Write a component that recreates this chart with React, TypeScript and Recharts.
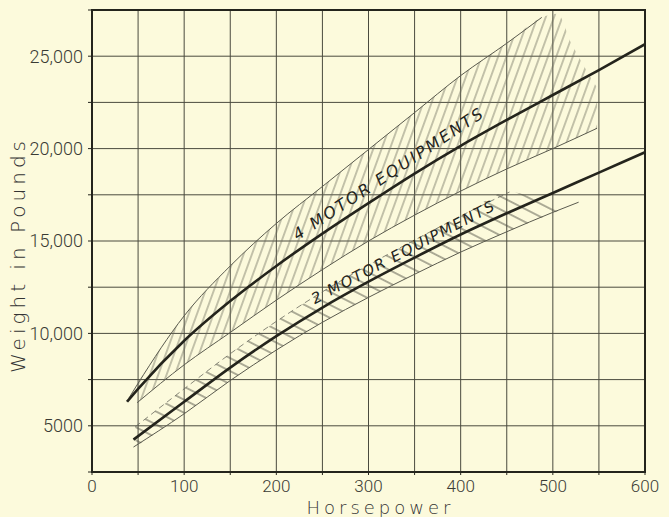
import {
  ComposedChart, Line, Area, XAxis, YAxis, CartesianGrid,
  ReferenceArea, ReferenceDot,
} from 'recharts';

// horsepower grid and weight grid (every 50 hp / 2500 lb)
const xTicks = [0, 50, 100, 150, 200, 250, 300, 350, 400, 450, 500, 550, 600];
const yTicks = [2500, 5000, 7500, 10000, 12500, 15000, 17500, 20000, 22500, 25000, 27500];
const yTickLabels: Record<number, string> = {
  5000: '5000', 10000: '10,000', 15000: '15,000', 20000: '20,000', 25000: '25,000',
};

// 4 motor equipments
const main4Hp = [38, 50, 100, 150, 200, 250, 300, 350, 400, 450, 500, 550, 600];
const main4W  = [6300, 7000, 9600, 11750, 13650, 15400, 17050, 18650, 20150, 21550, 22900, 24250, 25650];
const upper4Hp = [40, 50, 100, 150, 200, 250, 300, 350, 400, 450, 488];
const upper4W  = [6500, 7300, 10950, 13650, 15950, 17950, 19950, 21950, 23950, 25700, 27100];
const lower4Hp = [49, 100, 150, 200, 250, 300, 350, 400, 450, 500, 548];
const lower4W  = [6250, 8300, 10050, 11800, 13450, 15000, 16400, 17700, 18900, 20000, 21100];
const band4Hp   = [49, 100, 150, 200, 250, 300, 350, 400, 450, 488, 505, 520, 530, 548];
const band4High = [7250, 10950, 13650, 15950, 17950, 19950, 21950, 23950, 25700, 27100, 27300, 25700, 24800, 23300];
const band4Low  = [6250, 8300, 10050, 11800, 13450, 15000, 16400, 17700, 18900, 19750, 20100, 20450, 20650, 21100];

// 2 motor equipments
const main2Hp = [45, 100, 150, 200, 250, 300, 350, 400, 450, 500, 550, 600];
const main2W  = [4250, 6300, 8150, 9850, 11400, 12800, 14100, 15350, 16500, 17600, 18700, 19800];
const upper2Hp = [47, 100, 150, 200, 250, 300, 350, 400, 453];
const upper2W  = [4950, 7000, 8900, 10650, 12250, 13700, 15050, 16350, 17650];
const lower2Hp = [45, 100, 150, 200, 250, 300, 350, 400, 450, 500, 528];
const lower2W  = [3850, 5650, 7450, 9100, 10600, 11950, 13200, 14400, 15500, 16550, 17100];
const band2Hp   = [47, 100, 150, 200, 250, 300, 350, 400, 453, 485, 515];
const band2High = [4950, 7000, 8900, 10650, 12250, 13700, 15050, 16350, 17650, 17250, 16800];
const band2Low  = [3850, 5650, 7450, 9100, 10600, 11950, 13200, 14400, 15550, 16200, 16800];

// curve labels: text, hp, weight, angle
const curveLabels = [
  { text: '4 MOTOR EQUIPMENTS', hp: 322, w: 18650, angle: 33.6, size: 16, spacing: 2.3 },
  { text: '2 MOTOR EQUIPMENTS', hp: 338, w: 14400, angle: 27.6, size: 15, spacing: 1.8 },
];

const pts = (hp: number[], w: number[]) => hp.map((h, i) => ({ hp: h, w: w[i] }));
const band = (hp: number[], lo: number[], hi: number[]) => hp.map((h, i) => ({ hp: h, range: [lo[i], hi[i]] }));

const BG = '#fcfadc';
const INK = '#24241c';
const FONT = '"DejaVu Sans", sans-serif';
const TICK_FONT = '"Liberation Sans Narrow", Roboto, sans-serif';

function YTitle({ viewBox }: any) {
  const cx = 25;
  const cy = viewBox.y + viewBox.height / 2 + 14;
  return (
    <text x={cx} y={cy} transform={`rotate(-90 ${cx} ${cy})`} textAnchor="middle"
      fill="#333" fontFamily={FONT} fontWeight={200} fontSize={20} letterSpacing={4}>
      Weight in Pounds
    </text>
  );
}

function XTitle({ viewBox }: any) {
  const cx = viewBox.x + viewBox.width / 2 + 12;
  return (
    <text x={cx} y={514} textAnchor="middle" fill="#333" fontFamily={FONT}
      fontWeight={200} fontSize={18} letterSpacing={4}>
      Horsepower
    </text>
  );
}

const labelShape = (l: typeof curveLabels[number]) => (p: any) => (
  <text x={p.cx} y={p.cy} transform={`rotate(${-l.angle} ${p.cx} ${p.cy})`}
    textAnchor="middle" dominantBaseline="central" fill={INK} fontFamily={FONT}
    fontStyle="italic" fontSize={l.size} letterSpacing={l.spacing}>
    {l.text}
  </text>
);

export default function App() {
  return (
    <div style={{ position: 'absolute', left: 0, top: 0, width: 669, height: 517, background: BG }}>
      <ComposedChart width={669} height={517} margin={{ top: 10, right: 24, bottom: 0, left: 0 }}>
        <defs>
          <pattern id="hatch4" patternUnits="userSpaceOnUse" width="7.8" height="10" patternTransform="rotate(20)">
            <line x1="3.9" y1="0" x2="3.9" y2="10" stroke="#6a6a5c" strokeWidth="0.8" />
          </pattern>
          <pattern id="hatch2" patternUnits="userSpaceOnUse" width="10" height="11.6" patternTransform="rotate(27)">
            <line x1="0" y1="5.8" x2="10" y2="5.8" stroke="#4a4a40" strokeWidth="0.9" />
          </pattern>
        </defs>
        <CartesianGrid stroke="#4a4a3e" strokeWidth={1} />
        <XAxis type="number" dataKey="hp" domain={[0, 600]} ticks={xTicks} allowDataOverflow
          height={45} tickSize={3} tickMargin={5} stroke={INK}
          axisLine={{ stroke: INK, strokeWidth: 2 }} tickLine={{ stroke: INK }}
          tickFormatter={(v) => (v % 100 === 0 ? String(v) : '')}
          tick={{ fill: '#3a3a34', fontSize: 17, fontFamily: TICK_FONT, fontWeight: 300 }}
          label={<XTitle />} />
        <YAxis type="number" domain={[2500, 27500]} ticks={yTicks} allowDataOverflow
          width={92} tickSize={4} tickMargin={5} stroke={INK}
          axisLine={{ stroke: INK, strokeWidth: 2 }} tickLine={{ stroke: INK }}
          tickFormatter={(v) => yTickLabels[v] ?? ''}
          tick={{ fill: '#3a3a34', fontSize: 18, fontFamily: TICK_FONT, fontWeight: 300 }}
          label={<YTitle />} />

        <Area data={band(band4Hp, band4Low, band4High)} dataKey="range" type="monotone"
          fill="url(#hatch4)" fillOpacity={1} stroke="none" isAnimationActive={false} />
        <Area data={band(band2Hp, band2Low, band2High)} dataKey="range" type="monotone"
          fill="url(#hatch2)" fillOpacity={1} stroke="none" isAnimationActive={false} />

        <Line data={pts(upper4Hp, upper4W)} dataKey="w" type="monotone" stroke="#5a5a4e" strokeWidth={1} dot={false} isAnimationActive={false} />
        <Line data={pts(lower4Hp, lower4W)} dataKey="w" type="monotone" stroke="#5a5a4e" strokeWidth={1} dot={false} isAnimationActive={false} />
        <Line data={pts(upper2Hp, upper2W)} dataKey="w" type="monotone" stroke="#6a6a5e" strokeWidth={0.8} strokeDasharray="6 4" dot={false} isAnimationActive={false} />
        <Line data={pts(lower2Hp, lower2W)} dataKey="w" type="monotone" stroke="#5a5a4e" strokeWidth={1} dot={false} isAnimationActive={false} />

        <Line data={pts(main4Hp, main4W)} dataKey="w" type="monotone" stroke={INK} strokeWidth={2.6} dot={false} isAnimationActive={false} />
        <Line data={pts(main2Hp, main2W)} dataKey="w" type="monotone" stroke={INK} strokeWidth={2.6} dot={false} isAnimationActive={false} />

        {curveLabels.map((l) => (
          <ReferenceDot key={l.text} x={l.hp} y={l.w} r={1} shape={labelShape(l)} />
        ))}

        <ReferenceArea x1={0} x2={600} y1={2500} y2={27500} fill="none" stroke={INK} strokeWidth={2} />
      </ComposedChart>
    </div>
  );
}
